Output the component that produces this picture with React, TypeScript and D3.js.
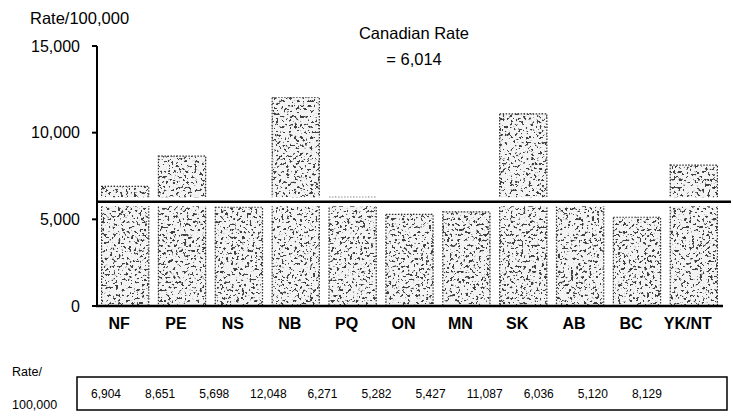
import React from 'react';
import * as d3 from 'd3';

const provinces = ['NF', 'PE', 'NS', 'NB', 'PQ', 'ON', 'MN', 'SK', 'AB', 'BC', 'YK/NT'];
const rates = [6904, 8651, 5698, 12048, 6271, 5282, 5427, 11087, 6036, 5120, 8129];
const rateLabels = ['6,904', '8,651', '5,698', '12,048', '6,271', '5,282', '5,427', '11,087', '6,036', '5,120', '8,129'];
const yTicks = [0, 5000, 10000, 15000];
const canadianRate = 6014;

const W = 733;
const H = 418;
const font = 'Arial, "Liberation Sans", Helvetica, sans-serif';

export default function App() {
  const y = d3.scaleLinear().domain([0, 15000]).range([306, 46]);
  const x = d3.scaleBand().domain(provinces).range([97, 722]).paddingInner(0.17).paddingOuter(0.08);
  const tx = d3.scaleBand().domain(provinces).range([79, 674]);
  const fmt = d3.format(',');
  const yRef = y(canadianRate);

  return (
    <svg width={W} height={H} style={{ position: 'absolute', left: 0, top: 0, background: '#fff' }}>
      <defs>
        {/* scanned stipple look for the bars */}
        <filter id="stipple" x="0" y="0" width="1" height="1">
          <feTurbulence type="fractalNoise" baseFrequency="0.38" numOctaves="2" seed="11" result="noise" />
          <feColorMatrix
            in="noise"
            type="matrix"
            values="0 0 0 0 0.05  0 0 0 0 0.05  0 0 0 0 0.05  -18 0 0 0 7.4"
            result="dots"
          />
          <feComposite in="dots" in2="SourceAlpha" operator="in" result="clipped" />
          <feMerge>
            <feMergeNode in="SourceGraphic" />
            <feMergeNode in="clipped" />
          </feMerge>
        </filter>
      </defs>

      {/* bars */}
      <g filter="url(#stipple)">
        {provinces.map((p, i) => (
          <rect
            key={p}
            x={x(p)}
            y={y(rates[i])}
            width={x.bandwidth()}
            height={y(0) - y(rates[i])}
            fill="#f3f3f3"
            stroke="#333"
            strokeWidth={1.2}
            strokeDasharray="1.5 1.5"
          />
        ))}
      </g>

      {/* canadian rate line */}
      <line x1={97} x2={731} y1={yRef} y2={yRef} stroke="#fff" strokeWidth={9} />
      <line x1={97} x2={731} y1={yRef} y2={yRef} stroke="#000" strokeWidth={2.5} />

      {/* axes */}
      <line x1={97} x2={97} y1={y(15000)} y2={y(0) + 1} stroke="#000" strokeWidth={2} />
      <line x1={96} x2={723} y1={y(0)} y2={y(0)} stroke="#000" strokeWidth={2.5} />
      {yTicks.map((t) => (
        <g key={t}>
          <line x1={92} x2={97} y1={y(t)} y2={y(t)} stroke="#000" strokeWidth={2} />
          <text x={80} y={y(t)} dy="0.35em" textAnchor="end" fontFamily={font} fontSize={16} fill="#000">
            {fmt(t)}
          </text>
        </g>
      ))}
      <text x={30} y={24} fontFamily={font} fontSize={16.5} fill="#000">Rate/100,000</text>

      {provinces.map((p) => (
        <text
          key={p}
          x={(x(p) as number) + x.bandwidth() / 2 - 6}
          y={329}
          textAnchor="middle"
          fontFamily={font}
          fontSize={16}
          fontWeight="bold"
          fill="#000"
        >
          {p}
        </text>
      ))}

      <text x={414} y={39} textAnchor="middle" fontFamily={font} fontSize={16.5} fill="#000">Canadian Rate</text>
      <text x={414} y={65} textAnchor="middle" fontFamily={font} fontSize={16.5} fill="#000">= {fmt(canadianRate)}</text>

      {/* table */}
      <text x={12} y={376} fontFamily={font} fontSize={12.5} fill="#000">Rate/</text>
      <text x={12} y={409} fontFamily={font} fontSize={12.5} fill="#000">100,000</text>
      <rect x={77} y={377} width={650} height={33} fill="none" stroke="#000" strokeWidth={1.5} />
      {provinces.map((p, i) => (
        <text
          key={p}
          x={(tx(p) as number) + tx.bandwidth() / 2}
          y={394}
          dy="0.35em"
          textAnchor="middle"
          fontFamily={font}
          fontSize={12}
          fill="#000"
        >
          {rateLabels[i]}
        </text>
      ))}
    </svg>
  );
}
